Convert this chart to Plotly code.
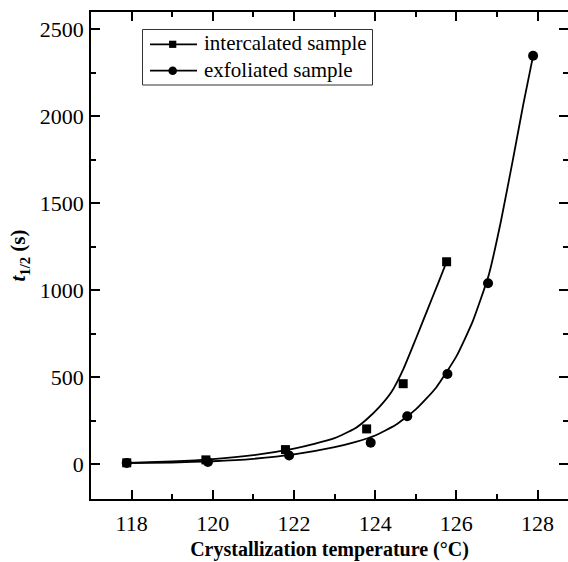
import plotly.graph_objects as go

# Measured half-crystallization times
temp_intercalated = [117.88, 119.83, 121.79, 123.79, 124.69, 125.76]
t_half_intercalated = [8, 25, 84, 203, 463, 1164]

temp_exfoliated = [117.88, 119.88, 121.88, 123.89, 124.79, 125.78, 126.78, 127.89]
t_half_exfoliated = [7, 13, 50, 124, 276, 519, 1040, 2348]

# Fitted trend curves
fit_temp_intercalated = [117.9, 119.0, 120.0, 121.0, 122.0, 122.5, 123.0, 123.5,
                         123.8, 124.1, 124.4, 124.7, 125.0, 125.3, 125.55, 125.76]
fit_t_intercalated = [8, 16, 29, 52, 90, 117, 150, 205, 260, 328, 415, 550, 720, 895,
                      1040, 1164]

fit_temp_exfoliated = [117.9, 119.0, 120.0, 121.0, 122.0, 123.0, 123.5, 124.0, 124.5,
                       125.0, 125.5, 126.0, 126.4, 126.8, 127.1, 127.4, 127.65, 127.89]
fit_t_exfoliated = [6, 10, 17, 31, 56, 98, 127, 165, 225, 315, 440, 620, 820, 1090,
                    1400, 1760, 2070, 2348]

series_names = ["intercalated sample", "exfoliated sample"]
series_symbols = ["square", "circle"]

FONT = "'Liberation Serif', 'Times New Roman', Times, serif"
INK = "black"

W, H = 568, 562
M_L, M_R, M_T, M_B = 91, 0, 12, 63
PLOT_W = W - M_L - M_R
PLOT_H = H - M_T - M_B


def px_x(px):
    """Horizontal pixel -> paper coordinate."""
    return (px - M_L) / PLOT_W


def px_y(py):
    """Vertical pixel (from top) -> paper coordinate."""
    return 1 - (py - M_T) / PLOT_H


fig = go.Figure()

# Smooth fit curves
for fx, fy in [(fit_temp_intercalated, fit_t_intercalated),
               (fit_temp_exfoliated, fit_t_exfoliated)]:
    fig.add_trace(go.Scatter(x=fx, y=fy, mode="lines",
                             line=dict(color=INK, width=1.8, shape="spline", smoothing=0.5),
                             showlegend=False, hoverinfo="skip"))

# Data points
fig.add_trace(go.Scatter(x=temp_intercalated, y=t_half_intercalated, mode="markers",
                         marker=dict(symbol="square", size=9, color=INK),
                         showlegend=False))
fig.add_trace(go.Scatter(x=temp_exfoliated, y=t_half_exfoliated, mode="markers",
                         marker=dict(symbol="circle", size=10, color=INK),
                         showlegend=False))

# Legend box drawn by hand
shapes = [dict(type="rect", xref="paper", yref="paper",
               x0=px_x(142.5), x1=px_x(372.5), y0=px_y(85), y1=px_y(29.5),
               line=dict(color="#333", width=1), fillcolor="white", layer="above")]
annotations = []
row_y = [44.3, 70.7]
for name, sym, ry in zip(series_names, series_symbols, row_y):
    shapes.append(dict(type="line", xref="paper", yref="paper",
                       x0=px_x(150), x1=px_x(197), y0=px_y(ry), y1=px_y(ry),
                       line=dict(color=INK, width=1.8), layer="above"))
    cx = 172.7
    if sym == "square":
        r = 3.6
        shapes.append(dict(type="rect", xref="paper", yref="paper",
                           x0=px_x(cx - r), x1=px_x(cx + r), y0=px_y(ry + r), y1=px_y(ry - r),
                           line=dict(width=0), fillcolor=INK, layer="above"))
    else:
        r = 4.3
        shapes.append(dict(type="circle", xref="paper", yref="paper",
                           x0=px_x(cx - r), x1=px_x(cx + r), y0=px_y(ry + r), y1=px_y(ry - r),
                           line=dict(width=0), fillcolor=INK, layer="above"))
    annotations.append(dict(text=name, xref="paper", yref="paper",
                            x=px_x(202), y=px_y(ry - 1), xanchor="left", yanchor="middle",
                            showarrow=False, font=dict(family=FONT, size=21, color=INK)))

axis_common = dict(
    showgrid=False, zeroline=False,
    showline=True, linecolor=INK, linewidth=1.8,
    mirror="ticks", ticks="inside", tickcolor=INK, tickwidth=1.5, ticklen=9,
    tickfont=dict(family=FONT, size=22, color=INK),
)

fig.update_xaxes(
    **axis_common,
    range=[117, 128.75],
    tickvals=[118, 120, 122, 124, 126, 128],
    minor=dict(dtick=1, tick0=117, ticks="inside", ticklen=5, tickwidth=1.5, tickcolor=INK),
    title=dict(text="<b>Crystallization temperature (°C)</b>",
               font=dict(family=FONT, size=20, color=INK), standoff=7),
    ticklabelstandoff=4,
)
fig.update_yaxes(
    **axis_common,
    range=[-200, 2600],
    tickvals=[0, 500, 1000, 1500, 2000, 2500],
    minor=dict(dtick=250, tick0=0, ticks="inside", ticklen=5, tickwidth=1.5, tickcolor=INK),
    title=dict(text="<b><i>t</i><sub>1/2</sub> (s)</b>",
               font=dict(family=FONT, size=21, color=INK), standoff=8),
    ticklabelstandoff=1,
)

fig.update_layout(
    width=W, height=H,
    margin=dict(l=M_L, r=M_R, t=M_T, b=M_B, autoexpand=False),
    paper_bgcolor="white", plot_bgcolor="white",
    font=dict(family=FONT, size=20, color=INK),
    showlegend=False,
    shapes=shapes,
    annotations=annotations,
)

fig.write_html("out.html")
